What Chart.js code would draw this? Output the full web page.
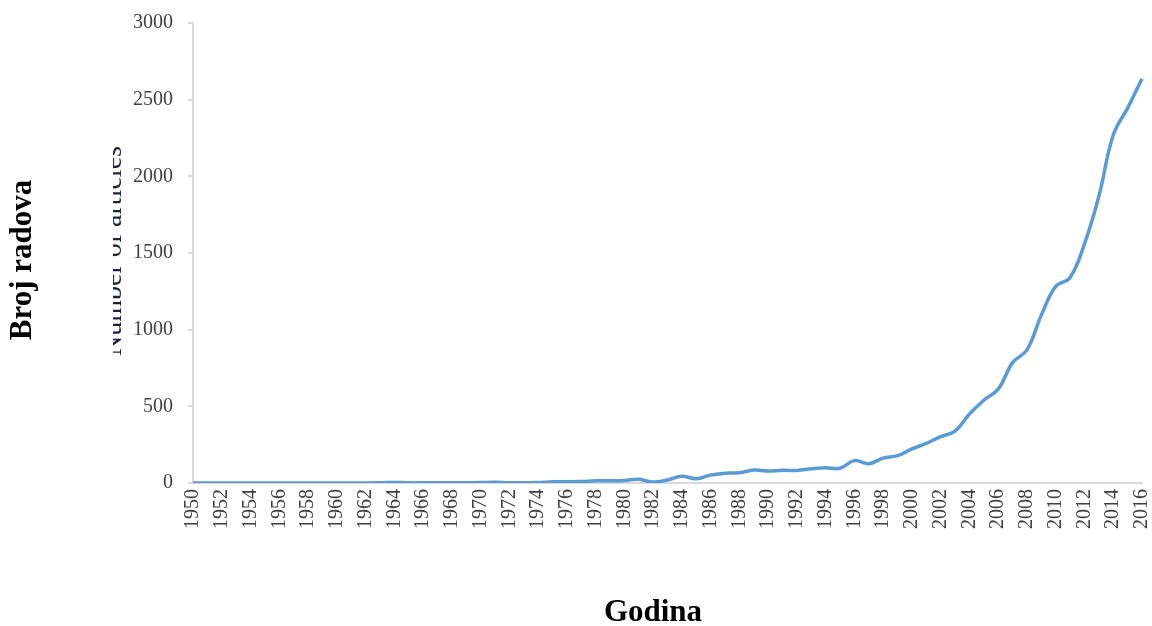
<!DOCTYPE html>
<html>
<head>
<meta charset="utf-8">
<script src="https://cdn.jsdelivr.net/npm/chart.js@4.4.1/dist/chart.umd.min.js"></script>
<style>
    html, body { margin: 0; padding: 0; background: #ffffff; }
    #wrap { width: 1152px; height: 626px; position: relative; }
</style>
</head>
<body>
<div id="wrap"><canvas id="chart"></canvas></div>
<script>
const years = [
    1950, 1951, 1952, 1953, 1954, 1955, 1956, 1957, 1958, 1959,
    1960, 1961, 1962, 1963, 1964, 1965, 1966, 1967, 1968, 1969,
    1970, 1971, 1972, 1973, 1974, 1975, 1976, 1977, 1978, 1979,
    1980, 1981, 1982, 1983, 1984, 1985, 1986, 1987, 1988, 1989,
    1990, 1991, 1992, 1993, 1994, 1995, 1996, 1997, 1998, 1999,
    2000, 2001, 2002, 2003, 2004, 2005, 2006, 2007, 2008, 2009,
    2010, 2011, 2012, 2013, 2014, 2015, 2016
];

// number of papers per year
const articles = [
    0, 0, 0, 0, 0, 0, 0, 0, 0, 0,
    0, 0, 0, 1, 4, 1, 1, 1, 2, 2,
    3, 5, 1, 2, 3, 8, 8, 9, 14, 15,
    17, 24, 6, 20, 44, 28, 52, 63, 67, 84,
    78, 83, 82, 93, 100, 96, 146, 126, 162, 178,
    222, 258, 303, 338, 450, 540, 612, 785, 868, 1095,
    1282, 1340, 1560, 1870, 2270, 2445, 2636
];

const yMin = 0;
const yMax = 3000;
const yStep = 500;

const yTitle = 'Broj radova';
const xTitle = 'Godina';
const oldYTitle = 'Number of articles';   // mostly covered in the original

const tickFont = { family: 'Liberation Serif', size: 20 };
const tickColor = '#404040';
const axisColor = '#d9d9d9';

// axis titles are placed by hand, the old english one is clipped like in the scan
const axisTitles = {
    id: 'axisTitles',
    afterDraw(chart) {
        const ctx = chart.ctx;
        ctx.save();
        ctx.fillStyle = '#000000';
        ctx.font = 'bold 31px "Liberation Serif"';
        ctx.textAlign = 'center';
        ctx.textBaseline = 'alphabetic';
        ctx.fillText(xTitle, 653, 621);

        ctx.save();
        ctx.translate(31, 260);
        ctx.rotate(-Math.PI / 2);
        ctx.fillText(yTitle, 0, 0);
        ctx.restore();

        ctx.beginPath();
        ctx.rect(113, 0, 12, 626);
        ctx.clip();
        ctx.translate(121, 251);
        ctx.rotate(-Math.PI / 2);
        ctx.font = '28px "Liberation Serif"';
        ctx.fillStyle = '#1c2340';
        ctx.fillText(oldYTitle, 0, 0);
        ctx.restore();
    }
};

new Chart(document.getElementById('chart'), {
    type: 'line',
    data: {
        labels: years,
        datasets: [{
            label: 'Broj radova',
            data: articles,
            borderColor: '#5b9bd5',
            backgroundColor: '#5b9bd5',
            borderWidth: 3.5,
            tension: 0.4,
            pointRadius: 0,
            fill: false,
        }]
    },
    options: {
        responsive: true,
        maintainAspectRatio: false,
        animation: false,
        layout: { padding: { top: 23, right: 10, bottom: 0, left: 0 } },
        plugins: {
            legend: { display: false },
            title: { display: false },
            tooltip: { enabled: false }
        },
        scales: {
            x: {
                offset: false,
                grid: { display: false, drawTicks: false },
                border: { display: true, color: axisColor, width: 2 },
                ticks: {
                    autoSkip: false,
                    minRotation: 90,
                    maxRotation: 90,
                    padding: 6,
                    color: tickColor,
                    font: tickFont,
                    callback: function (value, index) {
                        return index % 2 === 0 ? this.getLabelForValue(value) : '';
                    }
                },
                afterFit: (scale) => {
                    scale.height = 143;
                    scale.paddingLeft = 0;
                    scale.paddingRight = 0;
                }
            },
            y: {
                min: yMin,
                max: yMax,
                grid: {
                    drawOnChartArea: false,
                    drawTicks: true,
                    tickLength: 5,
                    color: axisColor,
                    lineWidth: 2
                },
                border: { color: axisColor, width: 2 },
                ticks: {
                    stepSize: yStep,
                    padding: 15,
                    color: tickColor,
                    font: tickFont,
                    callback: (value) => String(value)
                },
                afterFit: (scale) => {
                    scale.width = 193;
                    scale.paddingTop = 0;
                    scale.paddingBottom = 0;
                }
            }
        }
    },
    plugins: [axisTitles]
});
</script>
</body>
</html>
